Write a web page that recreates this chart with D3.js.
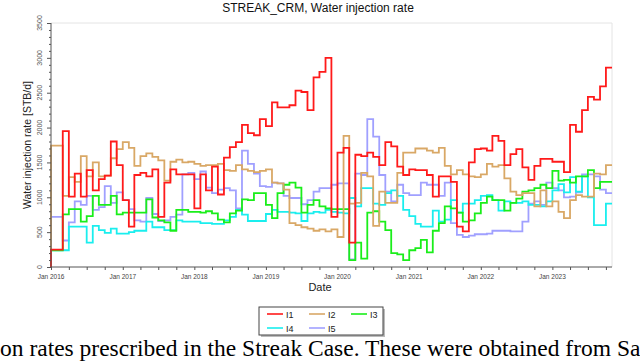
<!DOCTYPE html>
<html>
<head>
<meta charset="utf-8">
<script src="https://cdn.jsdelivr.net/npm/d3@7"></script>
<style>
  body { margin: 0; background: #fff; }
  svg { display: block; }
</style>
</head>
<body>
<div id="chart"></div>
<script>
// monthly rates, STB/d, Feb 2016 .. Nov 2023 (each value ends at its month)
const I1 = [250, 250, 1950, 1010, 1340, 1010, 1390, 1100, 1260, 1310,
  1800, 1460, 960, 580, 1320, 1350, 1300, 1400, 720, 1210,
  1400, 1330, 1330, 1330, 840, 1330, 1100, 1440, 1040, 1570,
  1720, 1790, 2040, 1920, 1890, 2120, 2020, 2360, 2290, 2290,
  2320, 2530, 2510, 2250, 2720, 2800, 3000, 720, 1640, 1710,
  350, 1610, 1590, 1640, 1580, 1460, 1790, 1730, 1440, 1320,
  1400, 1390, 1390, 1320, 1010, 1300, 1300, 1220, 580, 510,
  1500, 1690, 1700, 1670, 1880, 1810, 1460, 1620, 1690, 1430,
  1250, 1450, 1550, 1550, 1510, 1510, 1360, 2040, 1940, 2250,
  2440, 2400, 2590, 2860];
const I2 = [1740, 1740, 1020, 1290, 1220, 1590, 1300, 1500, 1300, 1310,
  1560, 1690, 1790, 1710, 1450, 1590, 1630, 1580, 1530, 1240,
  1510, 1540, 1500, 1510, 1480, 1450, 1460, 1460, 1480, 1390,
  1380, 1460, 1400, 1380, 1360, 1380, 1400, 1210, 1200, 1110,
  630, 600, 570, 550, 520, 540, 510, 540, 430, 1880,
  910, 920, 1350, 1300, 590, 1080, 920, 920, 1350, 1640,
  1640, 1700, 1700, 1670, 1640, 1710, 1450, 1330, 1390, 1330,
  1300, 1290, 1330, 1480, 1440, 1460, 1270, 1080, 1030, 1060,
  1060, 870, 1100, 870, 940, 790, 700, 960, 1030, 1010,
  1010, 1340, 1330, 1460];
const I3 = [240, 240, 755, 830, 830, 650, 730, 1020, 890, 890,
  1020, 755, 780, 780, 780, 780, 970, 710, 670, 640,
  520, 820, 820, 790, 790, 780, 800, 770, 680, 640,
  770, 810, 970, 960, 1060, 1060, 890, 700, 1060, 1180,
  1210, 1140, 780, 890, 960, 870, 840, 830, 830, 830,
  100, 350, 120, 780, 800, 650, 530, 200, 180, 100,
  240, 270, 390, 210, 520, 630, 870, 840, 780, 650,
  670, 770, 920, 1010, 960, 960, 810, 920, 980, 1080,
  1100, 1130, 1180, 1130, 1380, 1240, 1250, 1210, 1300, 1300,
  1390, 1130, 1220, 1220];
const I4 = [240, 240, 240, 580, 580, 580, 350, 590, 530, 490,
  550, 480, 480, 500, 520, 520, 650, 570, 570, 530,
  530, 670, 650, 650, 650, 630, 630, 620, 620, 670,
  720, 820, 750, 660, 660, 660, 760, 820, 790, 790,
  780, 770, 660, 770, 790, 780, 820, 790, 780, 770,
  990, 870, 1130, 1130, 910, 890, 1060, 1100, 1020, 820,
  730, 620, 580, 580, 810, 650, 680, 960, 780, 910,
  910, 960, 1020, 1030, 960, 810, 940, 920, 920, 940,
  890, 890, 870, 940, 1100, 1190, 1070, 1290, 1080, 1300,
  1000, 600, 600, 910];
const I5 = [720, 720, 380, 640, 940, 890, 1020, 820, 860, 1160,
  920, 1070, 960, 830, 670, 650, 990, 760, 660, 670,
  720, 750, 1330, 1350, 1260, 1370, 1140, 1060, 1110, 1130,
  1100, 840, 1670, 1480, 1340, 1160, 1150, 1210, 1200, 1020,
  990, 990, 900, 960, 1080, 1130, 1130, 1180, 1200, 1200,
  110, 1340, 1320, 2120, 1870, 1320, 1080, 940, 1180, 1060,
  1030, 1030, 1210, 1180, 1180, 1020, 1210, 630, 460, 430,
  450, 470, 470, 480, 520, 520, 520, 510, 510, 650,
  910, 940, 890, 1210, 1130, 1100, 1000, 1010, 1070, 1330,
  1330, 1300, 1110, 1060];

const seriesNames = ["I1", "I2", "I3", "I4", "I5"];
const seriesColors = ["#ff1a1a", "#d9a866", "#1aee1a", "#1aeeee", "#a0a0ff"];
const seriesValues = [I1, I2, I3, I4, I5];
const yTicks = [0, 500, 1000, 1500, 2000, 2500, 3000, 3500];

const startDate = new Date(2016, 0, 1);
const endDate = new Date(2023, 10, 1);
const dates = d3.timeMonth.range(startDate, d3.timeMonth.offset(endDate, 1));

const W = 640, H = 364;
const margin = { top: 23, right: 28, bottom: 97, left: 51 };

const svg = d3.select("#chart").append("svg")
  .attr("width", W).attr("height", H)
  .style("font-family", "'Liberation Sans', Arial, sans-serif");

const x = d3.scaleTime()
  .domain([startDate, endDate])
  .range([margin.left, W - margin.right]);
const y = d3.scaleLinear()
  .domain([0, 3500])
  .range([H - margin.bottom, margin.top]);

// title
svg.append("text")
  .attr("x", 318).attr("y", 12)
  .attr("text-anchor", "middle")
  .attr("font-size", 12)
  .attr("fill", "#111")
  .text("STREAK_CRM, Water injection rate");

// light frame top/right
svg.append("path")
  .attr("d", `M${margin.left},${y(3500)}H${x(endDate)}V${y(0)}`)
  .attr("fill", "none")
  .attr("stroke", "#e4e4e4");

// lines, step shape; each series starts from 0 at Jan 2016
const line = d3.line()
  .curve(d3.curveStepBefore)
  .x(d => x(d[0]))
  .y(d => y(d[1]));

const order = [4, 3, 2, 1, 0];
svg.append("g")
  .selectAll("path")
  .data(order)
  .join("path")
  .attr("fill", "none")
  .attr("stroke", i => seriesColors[i])
  .attr("stroke-width", 1.8)
  .attr("d", i => line(dates.map((d, k) => [d, k === 0 ? 0 : seriesValues[i][k - 1]])));

// y axis
const yAxis = svg.append("g")
  .attr("transform", `translate(${margin.left},0)`)
  .call(d3.axisLeft(y).tickValues(d3.range(0, 3501, 100)).tickSize(2).tickFormat(""));
yAxis.selectAll(".tick line")
  .attr("x2", d => (d % 500 === 0 ? -4 : -2));
yAxis.selectAll("line, path").attr("stroke", "#555");
yAxis.select(".domain").attr("d", `M0,${y(3500)}V${y(0)}`);

svg.append("g")
  .selectAll("text")
  .data(yTicks)
  .join("text")
  .attr("transform", d => `translate(${margin.left - 9},${y(d)}) rotate(-90)`)
  .attr("text-anchor", "middle")
  .attr("font-size", 7)
  .attr("fill", "#555")
  .text(d => d);

// x axis
const xAxis = svg.append("g")
  .attr("transform", `translate(0,${y(0)})`)
  .call(d3.axisBottom(x)
    .tickValues(d3.timeMonth.every(3).range(startDate, endDate))
    .tickSize(3)
    .tickFormat(""));
xAxis.selectAll("line, path").attr("stroke", "#555");
xAxis.select(".domain").attr("d", `M${margin.left},0H${x(endDate)}`);

svg.append("g")
  .selectAll("text")
  .data(d3.timeYear.range(startDate, endDate))
  .join("text")
  .attr("x", d => x(d))
  .attr("y", y(0) + 11.5)
  .attr("text-anchor", "middle")
  .attr("font-size", 6.5)
  .attr("fill", "#444")
  .text(d3.timeFormat("Jan %Y"));

// axis titles
svg.append("text")
  .attr("x", 320).attr("y", 291)
  .attr("text-anchor", "middle")
  .attr("font-size", 11)
  .attr("fill", "#222")
  .text("Date");

svg.append("text")
  .attr("transform", `translate(31,${(y(0) + y(3500)) / 2}) rotate(-90)`)
  .attr("text-anchor", "middle")
  .attr("font-size", 10.5)
  .attr("fill", "#222")
  .text("Water injection rate [STB/d]");

// legend
const lg = svg.append("g").attr("transform", "translate(259,307)");
lg.append("rect").attr("x", 2).attr("y", 2).attr("width", 124).attr("height", 28).attr("fill", "#bbb");
lg.append("rect").attr("width", 124).attr("height", 28).attr("fill", "#fff").attr("stroke", "#444");
const items = lg.selectAll("g.item")
  .data(seriesNames)
  .join("g")
  .attr("class", "item")
  .attr("transform", (d, i) => `translate(${8 + (i % 3) * 42},${7 + Math.floor(i / 3) * 14})`);
items.append("line")
  .attr("x1", 0).attr("x2", 16)
  .attr("stroke", (d, i) => seriesColors[i])
  .attr("stroke-width", 1.6);
items.append("text")
  .attr("x", 19).attr("y", 3.5)
  .attr("font-size", 9)
  .attr("fill", "#222")
  .text(d => d);

// caption fragment of the page below the figure
svg.append("text")
  .attr("x", 0).attr("y", 356)
  .attr("font-family", "'Liberation Serif', 'Times New Roman', serif")
  .attr("font-size", 23.5)
  .attr("fill", "#000")
  .text("on rates prescribed in the Streak Case. These were obtained from Sa");
</script>
</body>
</html>
